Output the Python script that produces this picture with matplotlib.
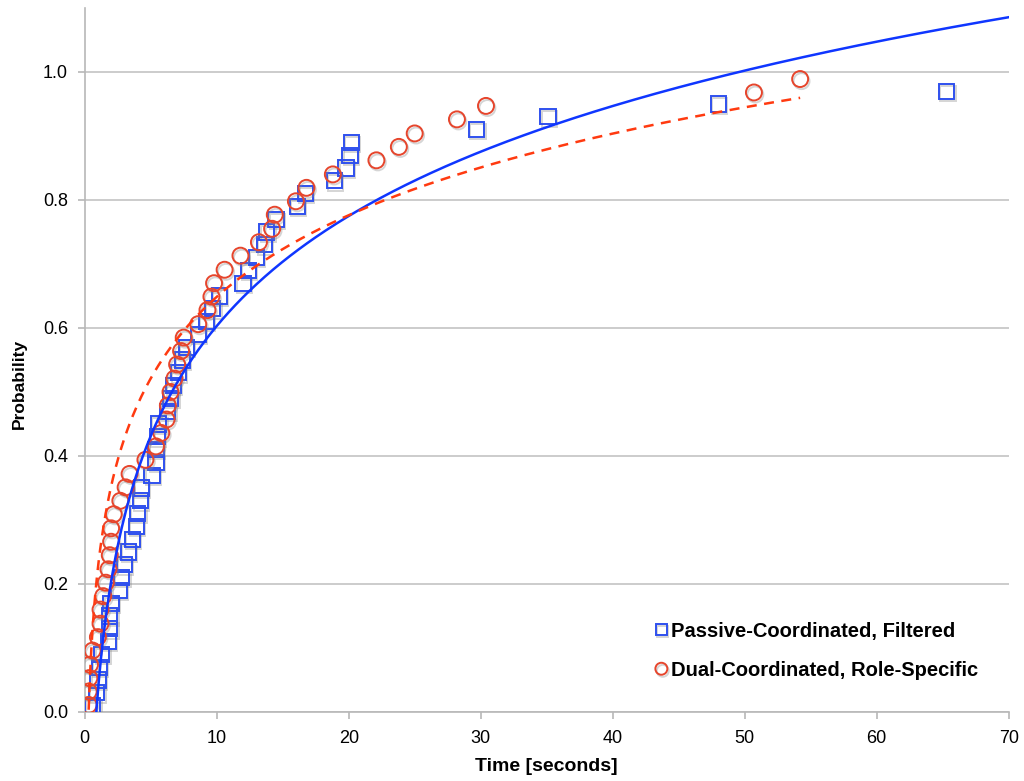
import matplotlib
matplotlib.use('Agg')
import matplotlib.pyplot as plt
import matplotlib.patheffects as pe
import numpy as np

plt.rcParams['font.family'] = ['Liberation Sans', 'DejaVu Sans']

# Passive-Coordinated, Filtered (last point lies beyond the visible x range)
passive_t = [0.6, 0.9, 1.0, 1.1, 1.3, 1.8, 1.9, 1.9, 2.0, 2.6,
             2.8, 3.0, 3.3, 3.6, 3.9, 4.0, 4.2, 4.3, 5.1, 5.4,
             5.4, 5.5, 5.6, 6.3, 6.5, 6.7, 7.1, 7.4, 7.7, 8.6,
             9.2, 9.7, 10.2, 12.0, 12.4, 13.0, 13.6, 13.8, 14.5, 16.1,
             16.7, 18.9, 19.8, 20.1, 20.2, 29.7, 35.1, 48.0, 65.3, 80.0]
passive_p = [0.01, 0.03, 0.05, 0.07, 0.09, 0.11, 0.13, 0.15, 0.17, 0.19,
             0.21, 0.23, 0.25, 0.27, 0.29, 0.31, 0.33, 0.35, 0.37, 0.39,
             0.41, 0.43, 0.45, 0.47, 0.49, 0.51, 0.53, 0.55, 0.57, 0.59,
             0.61, 0.63, 0.65, 0.67, 0.69, 0.71, 0.73, 0.75, 0.77, 0.79,
             0.81, 0.83, 0.85, 0.87, 0.89, 0.91, 0.93, 0.95, 0.97, 0.99]

# Dual-Coordinated, Role-Specific
dual_t = [0.3, 0.3, 0.35, 0.4, 0.6, 1.0, 1.2, 1.2, 1.4, 1.6,
          1.8, 1.9, 2.0, 2.0, 2.2, 2.7, 3.1, 3.4, 4.6, 5.4,
          5.8, 6.2, 6.3, 6.5, 6.8, 7.0, 7.3, 7.5, 8.6, 9.3,
          9.6, 9.8, 10.6, 11.8, 13.2, 14.2, 14.4, 16.0, 16.8, 18.8,
          22.1, 23.8, 25.0, 28.2, 30.4, 50.7, 54.2]
dual_p = [0.011, 0.032, 0.053, 0.074, 0.096, 0.117, 0.138, 0.160, 0.181, 0.202,
          0.223, 0.245, 0.266, 0.287, 0.309, 0.330, 0.351, 0.372, 0.394, 0.415,
          0.436, 0.457, 0.479, 0.500, 0.521, 0.543, 0.564, 0.585, 0.606, 0.628,
          0.649, 0.670, 0.691, 0.713, 0.734, 0.755, 0.777, 0.798, 0.819, 0.840,
          0.862, 0.883, 0.904, 0.926, 0.947, 0.968, 0.989]

# logarithmic trendlines p = a*ln(t) + b, coefficients
passive_fit = (0.248, 0.032)
dual_fit = (0.184, 0.225)

blue = '#2f50ee'
blue_line = '#0f36ff'
red = '#e6452c'
red_line = '#ff3a10'

fig = plt.figure(figsize=(10.24, 7.81), dpi=100)
ax = fig.add_axes([84.7 / 1024, 69 / 781, 924 / 1024, 704 / 781])


def trend(t, coef):
    xs = np.linspace(min(t), max(t), 500)
    return xs, coef[0] * np.log(xs) + coef[1]


xs_b, ys_b = trend(passive_t, passive_fit)
xs_r, ys_r = trend(dual_t, dual_fit)
ax.plot(xs_b, ys_b, color=blue_line, lw=1.8, zorder=4)
ax.plot(xs_r, ys_r, color=red_line, lw=1.8, dashes=(4, 3), zorder=4)

shadow = [pe.SimpleLineShadow(offset=(1, -1.5), shadow_color='#888888', alpha=0.35),
          pe.Normal()]
ax.plot(passive_t, passive_p, ls='none', marker='s', ms=11, mfc='none',
        mec=blue, mew=1.4, label='Passive-Coordinated, Filtered', zorder=3,
        path_effects=shadow)
ax.plot(dual_t, dual_p, ls='none', marker='o', ms=11.5, mfc='none',
        mec=red, mew=1.4, label='Dual-Coordinated, Role-Specific', zorder=3,
        path_effects=shadow)

ax.set_xlim(0, 70)
ax.set_ylim(0, 1.1)
ax.set_xticks(np.arange(0, 71, 10))
ax.set_yticks(np.arange(0, 1.01, 0.2))
ax.set_yticklabels(['0.0', '0.2', '0.4', '0.6', '0.8', '1.0'])
ax.yaxis.grid(True, color='#c4c4c4', lw=1.2)
ax.set_axisbelow(True)
for s in ['top', 'right']:
    ax.spines[s].set_visible(False)
for s in ['left', 'bottom']:
    ax.spines[s].set_color('#b8b8b8')
    ax.spines[s].set_linewidth(1.2)
ax.tick_params(axis='both', colors='#b8b8b8', labelcolor='black',
               labelsize=13, length=5, width=1.2)
ax.tick_params(axis='x', pad=8)
ax.tick_params(axis='y', pad=7)

ax.set_xlabel('Time [seconds]', fontsize=14, fontweight='bold')
ax.xaxis.set_label_coords(0.5, -0.066)
ax.set_ylabel('Probability', fontsize=12.5, fontweight='bold')
ax.yaxis.set_label_coords(-0.063, 0.466)

leg = ax.legend(loc='lower right', bbox_to_anchor=(0.987, 0.02), frameon=False,
                markerscale=0.75, handlelength=0.5, handletextpad=0.25,
                labelspacing=1.0, prop={'weight': 'bold', 'size': 14.5})

fig.savefig('out.png', dpi=100)
